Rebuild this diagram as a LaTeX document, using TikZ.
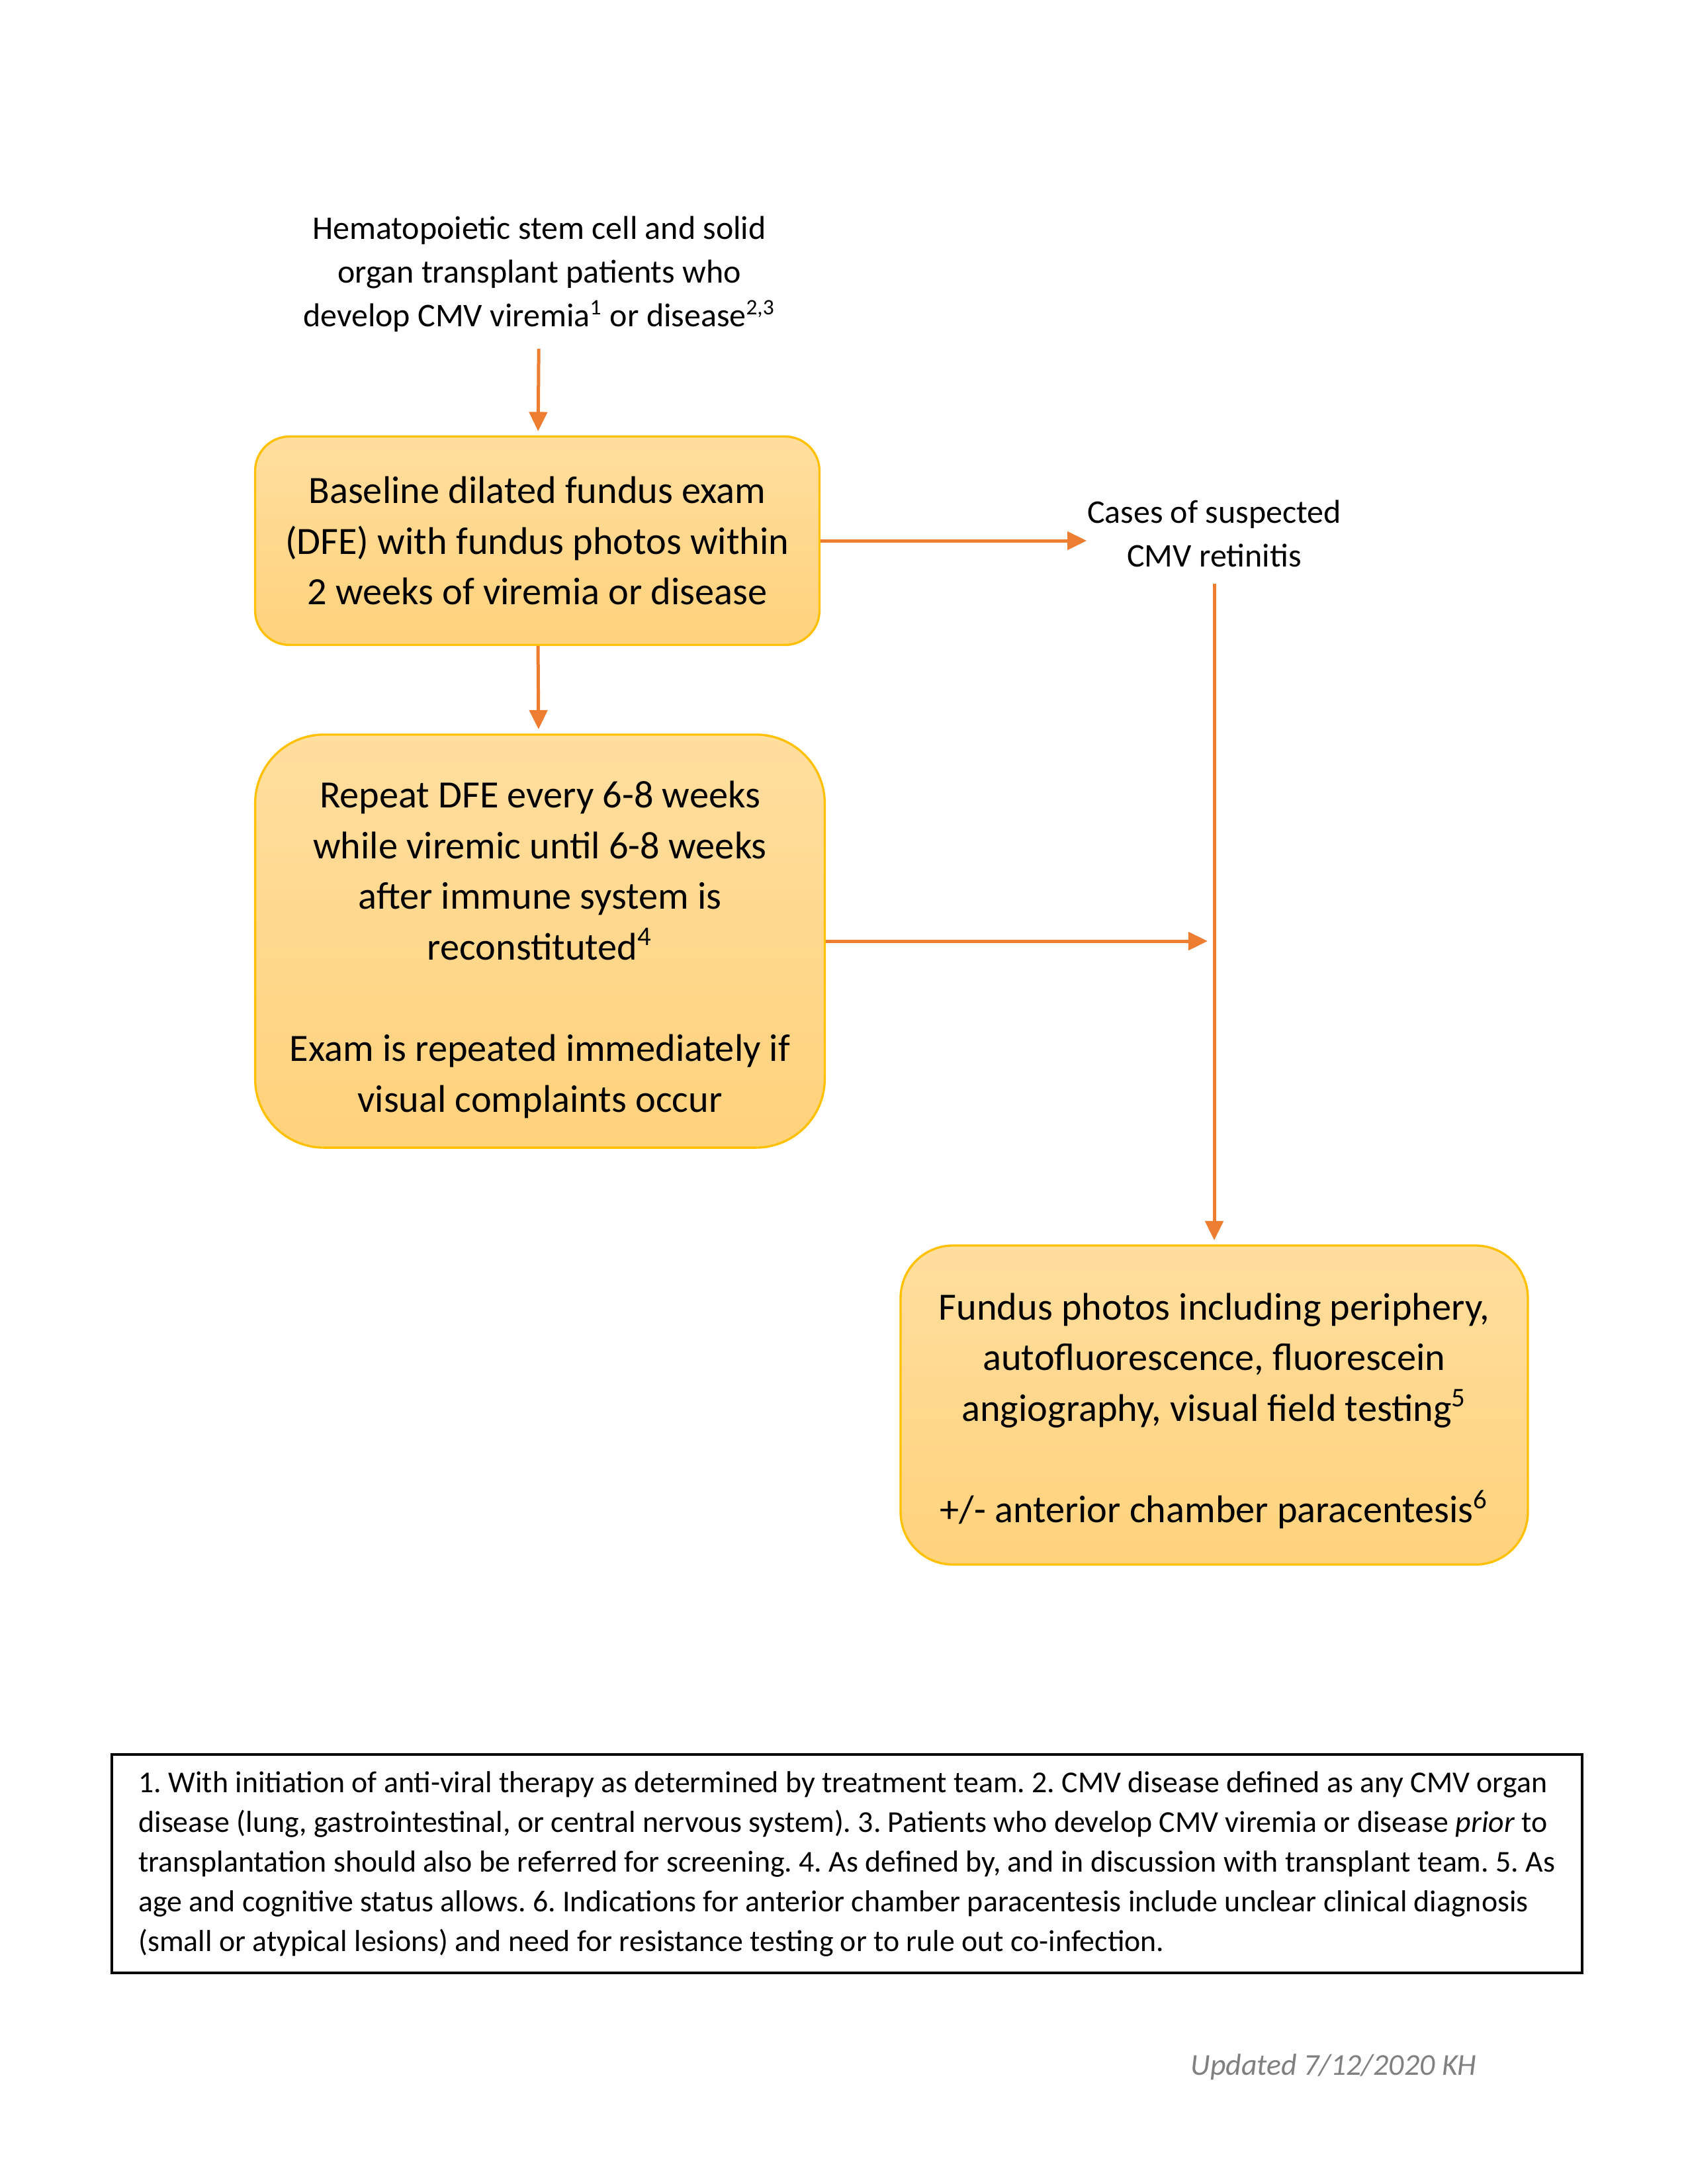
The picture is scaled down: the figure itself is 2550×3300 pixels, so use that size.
\documentclass[tikz,border=0pt]{standalone}
\usepackage{fontspec}
\setmainfont{Carlito}
\usepackage{xcolor}
\usetikzlibrary{arrows.meta, positioning}
\definecolor{flowor}{HTML}{ED7D31}
\definecolor{boxtop}{HTML}{FFDE9E}
\definecolor{boxbot}{HTML}{FFD27C}
\definecolor{boxrim}{HTML}{FFC000}
\tikzset{>={Triangle[width=6.5pt,length=7pt]}}
\tikzset{
  stepbox/.style={draw=boxrim, line width=0.8pt, top color=boxtop, bottom color=boxbot,
    align=center, inner sep=0pt, font=\fontsize{14}{18.4}\selectfont},
  plain/.style={align=center, inner sep=0pt, font=\fontsize{12}{15.8}\selectfont},
  flow/.style={flowor, line width=1.2pt}
}
\frenchspacing

\begin{document}
\begin{tikzpicture}[x=0.24pt, y=-0.24pt]
\useasboundingbox (0,0) rectangle (2550,3300);
\node[plain] (src) at (815,414) {Hematopoietic stem cell and solid\\organ transplant patients who\\develop CMV viremia\textsuperscript{1} or disease\textsuperscript{2,3}};
\node[stepbox, rounded corners=12.5pt, minimum width=204.7pt, minimum height=75.6pt] (base) at (812,817)
  {Baseline dilated fundus exam\\(DFE) with fundus photos within\\2 weeks of viremia or disease};
\node[plain] (cases) at (1835,806) {Cases of suspected\\CMV retinitis};
\node[stepbox, rounded corners=25pt, minimum width=206.6pt, minimum height=149.8pt] (repeat) at (816,1422)
  {\rule{0pt}{16pt}Repeat DFE every 6-8 weeks\\while viremic until 6-8 weeks\\after immune system is\\reconstituted\textsuperscript{4}\\[18.4pt]
   Exam is repeated immediately if\\visual complaints occur};
\node[stepbox, rounded corners=19pt, minimum width=227.5pt, minimum height=115.7pt] (photos) at (1835,2123)
  {\rule{0pt}{14pt}Fundus photos including periphery,\\autofluorescence, fluorescein\\angiography, visual field testing\textsuperscript{5}\\[18.4pt]
   +/- anterior chamber paracentesis\textsuperscript{6}};

% footnotes
\node[draw, line width=1.1pt, minimum width=533.3pt, minimum height=79.2pt, align=left,
  font=\fontsize{11}{14.4}\selectfont] (notes) at (1280,2816)
  {1. With initiation of anti-viral therapy as determined by treatment team. 2. CMV disease defined as any CMV organ\\
   disease (lung, gastrointestinal, or central nervous system). 3. Patients who develop CMV viremia or disease \textit{prior} to\\
   transplantation should also be referred for screening. 4. As defined by, and in discussion with transplant team. 5. As\\
   age and cognitive status allows. 6. Indications for anterior chamber paracentesis include unclear clinical diagnosis\\
   (small or atypical lesions) and need for resistance testing or to rule out co-infection.};
\node[anchor=east, text=gray, font=\fontsize{11}{13}\selectfont\itshape] (upd) at (2246,3123) {Updated 7/12/2020 KH};

\coordinate (join) at (cases.south |- repeat.east);
\draw[flow,->,shorten <=6pt,shorten >=1.5pt] (src) -- (base);
\draw[flow,->] (base.east) -- (base.east -| cases.west);
\draw[flow,->,shorten >=1.5pt] (base) -- (repeat);
\draw[flow,->,shorten <=6pt,shorten >=1.5pt] (cases) -- (photos);
\draw[flow,->,shorten >=2.4pt] (repeat.east) -- (join);
\end{tikzpicture}
\end{document}
